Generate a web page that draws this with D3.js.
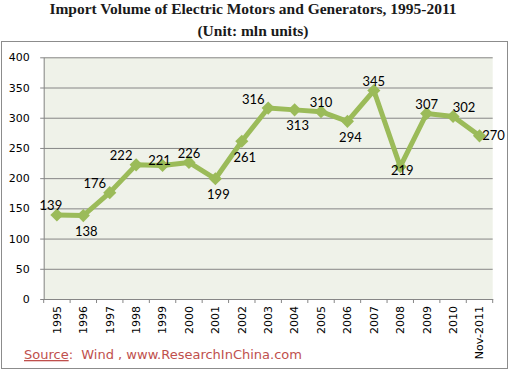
<!DOCTYPE html>
<html>
<head>
<meta charset="utf-8">
<script src="https://cdn.jsdelivr.net/npm/d3@7"></script>
<style>
  body { margin: 0; background: #fff; }
</style>
</head>
<body>
<svg id="chart" width="509" height="372"></svg>
<script>
var years = ["1995", "1996", "1997", "1998", "1999", "2000", "2001", "2002", "2003",
             "2004", "2005", "2006", "2007", "2008", "2009", "2010", "Nov-2011"]
var volumes = [139, 138, 176, 222, 221, 226, 199, 261, 316, 313, 310, 294, 345, 219, 307, 302, 270]
var yTicks = [0, 50, 100, 150, 200, 250, 300, 350, 400]
// where each value label sits relative to its point
var labelSide = ["nearleft", "below", "upleft", "upleft", "nearabove", "above", "below", "below", "upleft",
                 "below", "above", "below", "above", "on", "above", "upright", "right"]

main()

function main() {
  var LEFT = 43.7, RIGHT = 492.7, TOP = 57.3, BOTTOM = 299
  var GREEN = "#9bbb59"

  var svg = d3.select("#chart")

  svg.append("text")
      .attr("x", 253).attr("y", 14)
      .attr("text-anchor", "middle")
      .attr("font-family", "Liberation Serif")
      .attr("font-weight", "bold")
      .attr("font-size", 15.5)
      .attr("fill", "#1a1a1a")
      .text("Import Volume of Electric Motors and Generators,  1995-2011")

  svg.append("text")
      .attr("x", 253).attr("y", 36)
      .attr("text-anchor", "middle")
      .attr("font-family", "Liberation Serif")
      .attr("font-weight", "bold")
      .attr("font-size", 15.5)
      .attr("fill", "#1a1a1a")
      .text("(Unit: mln units)")

  // outer frame
  svg.append("rect")
      .attr("x", 1.5).attr("y", 41.5)
      .attr("width", 506).attr("height", 327)
      .attr("fill", "none")
      .attr("stroke", "#8c8c8c")

  var x = d3.scaleBand().domain(years).range([LEFT, RIGHT])
  var y = d3.scaleLinear().domain([0, 400]).range([BOTTOM, TOP])

  svg.append("rect")
      .attr("x", LEFT).attr("y", TOP)
      .attr("width", RIGHT - LEFT).attr("height", BOTTOM - TOP)
      .attr("fill", "#eff2e9")

  var yAxis = svg.append("g")
      .attr("transform", "translate(" + LEFT + ",0)")
      .call(d3.axisLeft(y).tickValues(yTicks).tickSize(-(RIGHT - LEFT)).tickSizeOuter(0).tickPadding(14))
  yAxis.select(".domain").attr("stroke", "#868686")
  yAxis.selectAll(".tick line").attr("stroke", "#868686").attr("x1", -3.5)
  yAxis.selectAll(".tick text")
      .attr("font-family", "DejaVu Sans")
      .attr("font-size", 11)
      .attr("fill", "#000")

  var xAxis = svg.append("g")
      .attr("transform", "translate(0," + BOTTOM + ")")
      .call(d3.axisBottom(x).tickSize(0).tickSizeOuter(0))
  xAxis.select(".domain").attr("stroke", "#868686")
  xAxis.selectAll(".tick text")
      .attr("font-family", "DejaVu Sans")
      .attr("font-size", 11)
      .attr("fill", "#000")
      .attr("transform", "rotate(-90)")
      .attr("text-anchor", "end")
      .attr("x", -7).attr("y", 0)
      .attr("dy", "0.35em")

  // category boundary ticks
  xAxis.selectAll(".sep")
      .data(d3.range(years.length + 1))
      .join("line")
      .attr("x1", function(i) { return LEFT + i * x.step() })
      .attr("x2", function(i) { return LEFT + i * x.step() })
      .attr("y1", 0).attr("y2", 4)
      .attr("stroke", "#868686")

  var cx = function(d, i) { return x(years[i]) + x.bandwidth() / 2 }

  var line = d3.line()
      .x(function(d, i) { return cx(d, i) })
      .y(function(d) { return y(d) })

  svg.append("path")
      .datum(volumes)
      .attr("d", line)
      .attr("fill", "none")
      .attr("stroke", GREEN)
      .attr("stroke-width", 5)
      .attr("stroke-linejoin", "round")

  svg.selectAll(".marker")
      .data(volumes)
      .join("path")
      .attr("class", "marker")
      .attr("d", d3.symbol().type(d3.symbolDiamond2).size(110))
      .attr("transform", function(d, i) { return "translate(" + cx(d, i) + "," + y(d) + ")" })
      .attr("fill", GREEN)

  var offsets = {
    above: [0, -9], below: [3, 16], upleft: [-15, -9], upright: [11, -9],
    right: [14, 0], on: [2, 4], nearleft: [-6, -10], nearabove: [-3, -5]
  }

  svg.selectAll(".value")
      .data(volumes)
      .join("text")
      .attr("class", "value")
      .attr("x", function(d, i) { return cx(d, i) + offsets[labelSide[i]][0] })
      .attr("y", function(d, i) { return y(d) + offsets[labelSide[i]][1] })
      .attr("dy", "0.35em")
      .attr("text-anchor", "middle")
      .attr("font-family", "Lato")
      .attr("font-size", 13)
      .attr("fill", "#000")
      .text(function(d) { return d })

  var source = svg.append("text")
      .attr("x", 24).attr("y", 359)
      .attr("font-family", "DejaVu Sans")
      .attr("font-size", 13)
      .attr("fill", "#c0504d")
  source.append("tspan").attr("text-decoration", "underline").text("Source")
  source.append("tspan").attr("xml:space", "preserve").text(":  Wind , www.ResearchInChina.com")
}
</script>
</body>
</html>
